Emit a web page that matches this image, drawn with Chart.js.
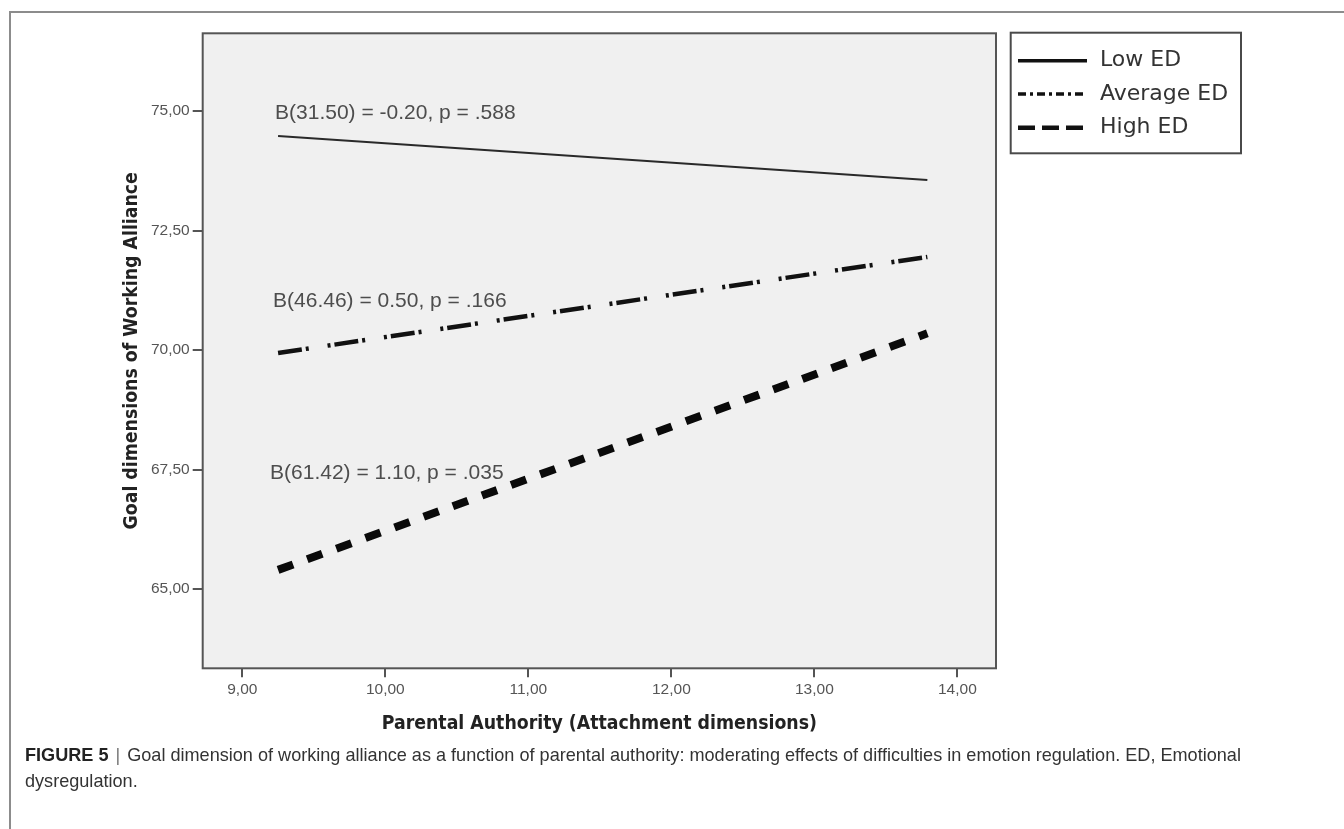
<!DOCTYPE html>
<html>
<head>
<meta charset="utf-8">
<script src="https://cdn.jsdelivr.net/npm/chart.js@4.4.1/dist/chart.umd.min.js"></script>
<style>
  html, body { margin: 0; padding: 0; background: #fff; width: 1344px; height: 829px; overflow: hidden; }
  #frame { position: absolute; left: 9px; top: 11px; width: 1400px; height: 900px;
           border-top: 2px solid #8c8c8c; border-left: 2px solid #8c8c8c; }
  #wrap { position: absolute; left: 0; top: 0; width: 1344px; height: 760px; }
  #caption { position: absolute; left: 25px; top: 742px; white-space: nowrap;
             font: 18.1px 'Liberation Sans', Arial, sans-serif; line-height: 26px; color: #333; }
  #caption b { color: #222; }
  #caption .bar { color: #777; padding: 0 2px; }
</style>
</head>
<body>
<div id="frame"></div>
<div id="wrap"><canvas id="c" width="1344" height="760"></canvas></div>
<div id="caption"><b>FIGURE 5</b> <span class="bar">|</span> Goal dimension of working alliance as a function of parental authority: moderating effects of difficulties in emotion regulation. ED, Emotional<br>dysregulation.</div>

<script>
// Simple slopes: predicted goal score at low and high parental authority
const xValues = [9.25, 13.79];
const lowED = [74.48, 73.56];
const averageED = [69.94, 71.95];
const highED = [65.40, 70.35];

const seriesLabels = ['Low ED', 'Average ED', 'High ED'];

const xTickValues = [9, 10, 11, 12, 13, 14];
const xTickLabels = ['9,00', '10,00', '11,00', '12,00', '13,00', '14,00'];
const yTickValues = [65, 67.5, 70, 72.5, 75];
const yTickLabels = ['65,00', '67,50', '70,00', '72,50', '75,00'];

const slopeNotes = ['B(31.50) = -0.20, p = .588', 'B(46.46) = 0.50, p = .166', 'B(61.42) = 1.10, p = .035'];

const xTitle = 'Parental Authority (Attachment dimensions)';
const yTitle = 'Goal dimensions of Working Alliance';

const W = 1344, H = 760;
const AREA = { left: 202.7, right: 996, top: 33.3, bottom: 668.3 };

const tickFont = { family: "'Liberation Sans', Arial, sans-serif", size: 15.5 };
const titleFont = { family: "'DejaVu Sans Condensed', 'DejaVu Sans', sans-serif", size: 19.3, weight: 'bold', lineHeight: 1.2 };

const styles = [
  { color: '#2a2a2a', width: 2, dash: [], legendWidth: 3.5, legendDash: [] },
  { color: '#111111', width: 4.5, dash: [24, 4, 3, 19, 3, 4], legendWidth: 3.5, legendDash: [8, 4, 3, 4] },
  { color: '#0a0a0a', width: 8, dash: [16, 15], legendWidth: 4.5, legendDash: [17, 7] }
];
const seriesValues = [lowED, averageED, highED];

// Grey plotting panel with dark frame
const panelPlugin = {
  id: 'panel',
  beforeDatasetsDraw(chart) {
    const { ctx, chartArea: a } = chart;
    ctx.save();
    ctx.fillStyle = '#f0f0f0';
    ctx.fillRect(a.left, a.top, a.right - a.left, a.bottom - a.top);
    ctx.strokeStyle = '#555';
    ctx.lineWidth = 2;
    ctx.strokeRect(a.left, a.top, a.right - a.left, a.bottom - a.top);
    ctx.restore();
  }
};

// Slope labels placed above each line's left end
const noteAnchors = [
  { x: 9.229, y: 74.96 },
  { x: 9.215, y: 71.03 },
  { x: 9.194, y: 67.43 }
];
const notesPlugin = {
  id: 'notes',
  afterDatasetsDraw(chart) {
    const { ctx, scales: { x, y } } = chart;
    ctx.save();
    ctx.font = "21px 'Liberation Sans', Arial, sans-serif";
    ctx.fillStyle = '#4d4d4d';
    ctx.textAlign = 'left';
    ctx.textBaseline = 'middle';
    slopeNotes.forEach((t, i) => {
      ctx.fillText(t, x.getPixelForValue(noteAnchors[i].x), y.getPixelForValue(noteAnchors[i].y));
    });
    ctx.restore();
  }
};

// Boxed legend to the right of the panel
const legendPlugin = {
  id: 'boxLegend',
  afterDraw(chart) {
    const { ctx } = chart;
    const box = { x: 1010.7, y: 32.7, w: 230.3, h: 120.6 };
    const rows = [60.7, 94, 127.7];
    ctx.save();
    ctx.fillStyle = '#fff';
    ctx.fillRect(box.x, box.y, box.w, box.h);
    ctx.strokeStyle = '#4a4a4a';
    ctx.lineWidth = 2;
    ctx.strokeRect(box.x, box.y, box.w, box.h);
    chart.data.datasets.forEach((ds, i) => {
      const s = styles[i];
      ctx.beginPath();
      ctx.setLineDash(s.legendDash);
      ctx.lineWidth = s.legendWidth;
      ctx.strokeStyle = '#111';
      ctx.lineCap = 'butt';
      ctx.moveTo(1018, rows[i]);
      ctx.lineTo(1087, rows[i]);
      ctx.stroke();
      ctx.setLineDash([]);
      ctx.font = "22px 'DejaVu Sans', Verdana, sans-serif";
      ctx.fillStyle = '#333';
      ctx.textAlign = 'left';
      ctx.textBaseline = 'middle';
      ctx.fillText(ds.label, 1100, rows[i]);
    });
    ctx.restore();
  }
};

new Chart(document.getElementById('c'), {
  type: 'line',
  data: {
    datasets: seriesValues.map((vals, i) => ({
      label: seriesLabels[i],
      data: xValues.map((xv, k) => ({ x: xv, y: vals[k] })),
      borderColor: styles[i].color,
      borderWidth: styles[i].width,
      borderDash: styles[i].dash,
      borderCapStyle: 'butt',
      pointRadius: 0,
      fill: false,
      tension: 0
    }))
  },
  options: {
    responsive: false,
    animation: false,
    devicePixelRatio: 1,
    layout: { padding: { left: 0, right: W - AREA.right, top: AREA.top, bottom: 0 } },
    plugins: { legend: { display: false }, tooltip: { enabled: false } },
    scales: {
      x: {
        type: 'linear',
        min: 8.723,
        max: 14.27,
        afterFit(s) { s.height = H - AREA.bottom; },
        afterBuildTicks(s) { s.ticks = xTickValues.map(v => ({ value: v })); },
        ticks: {
          callback: (v, i) => xTickLabels[i],
          font: tickFont, color: '#555', padding: 3, maxRotation: 0, autoSkip: false
        },
        grid: { drawOnChartArea: false, drawTicks: true, tickLength: 9, color: '#555', lineWidth: 2 },
        border: { display: false },
        title: { display: true, text: xTitle, font: titleFont, color: '#222', padding: { top: 0, bottom: 24 } }
      },
      y: {
        type: 'linear',
        min: 63.34,
        max: 76.63,
        afterFit(s) { s.width = AREA.left; },
        afterBuildTicks(s) { s.ticks = yTickValues.map(v => ({ value: v })); },
        ticks: {
          callback: (v, i) => yTickLabels[i],
          font: tickFont, color: '#555', padding: 3, autoSkip: false
        },
        grid: { drawOnChartArea: false, drawTicks: true, tickLength: 10, color: '#555', lineWidth: 2 },
        border: { display: false },
        title: { display: true, text: yTitle, font: titleFont, color: '#222', padding: { top: 120, bottom: 0 } }
      }
    }
  },
  plugins: [panelPlugin, notesPlugin, legendPlugin]
});
</script>
</body>
</html>
